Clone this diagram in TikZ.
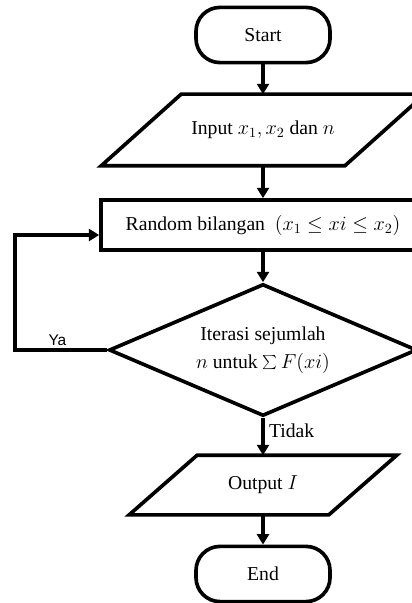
\documentclass[tikz,border=0pt]{standalone}
\usepackage{fontspec}
\setmainfont{Liberation Serif}
\newfontfamily\yafont{Liberation Sans}
\usetikzlibrary{shapes.geometric,arrows.meta}
\tikzset{
    box/.style={draw, line width=2.6pt, font=\fontsize{14}{16}\selectfont},
    startstop/.style={box, rectangle, rounded corners=0.6cm, minimum width=3.35cm, minimum height=1.38cm},
    iobox/.style={rectangle, line width=2.6pt, font=\fontsize{14}{16}\selectfont, inner sep=0pt},
    process/.style={box, rectangle, minimum width=8.1cm, minimum height=1.25cm},
    decision/.style={box, diamond, aspect=2.33, inner sep=0pt, minimum width=7.7cm, minimum height=3.3cm, align=center, font=\fontsize{14}{17.5}\selectfont},
    flow/.style={-{Triangle[length=0.26cm,width=0.3cm]}, line width=2.6pt}
}
\begin{document}
\begin{tikzpicture}
    \useasboundingbox (0,0) rectangle (10.275,-15.075);
    %draw nodes
    \node[startstop] (start) at (6.575,-0.875) {Start};
    \node[iobox, minimum width=6cm, minimum height=1.7cm] (input) at (6.575,-3.25) {Input $x_1, x_2$ dan $n$};
    \node[process] (random) at (6.575,-5.625) {Random bilangan ~$(x_1 \le xi \le x_2)$};
    \node[decision] (check) at (6.575,-8.75) {Iterasi sejumlah\\[2pt] $n$ untuk $\sum F(xi)$};
    \node[iobox, minimum width=4.9cm, minimum height=1.4cm] (output) at (6.575,-12.125) {Output $I$};
    \node[startstop] (end) at (6.575,-14.35) {End};
    \coordinate (loop) at (0.375,-8.75);
    %draw slanted sides of input and output
    \draw[line width=2.6pt] ([xshift=-1cm]input.south west) -- ([xshift=-1cm]input.south east) -- ([xshift=1cm]input.north east) -- ([xshift=1cm]input.north west) -- cycle;
    \draw[line width=2.6pt] ([xshift=-0.85cm]output.south west) -- ([xshift=-0.85cm]output.south east) -- ([xshift=0.85cm]output.north east) -- ([xshift=0.85cm]output.north west) -- cycle;
    %draw arrows
    \draw[flow] (start) -- (input);
    \draw[flow] (input) -- (random);
    \draw[flow] (random) -- (check);
    \draw[flow] (check) -- node[right, pos=0.35, inner sep=3pt, font=\fontsize{14}{16}\selectfont]{Tidak} (output);
    \draw[flow] (output) -- (end);
    \draw[flow] (check.west) -- node[above, pos=0.54, inner sep=2pt, font=\yafont\fontsize{11}{13}\selectfont]{Ya} (loop) |- ([yshift=-0.25cm]random.west);
\end{tikzpicture}
\end{document}
